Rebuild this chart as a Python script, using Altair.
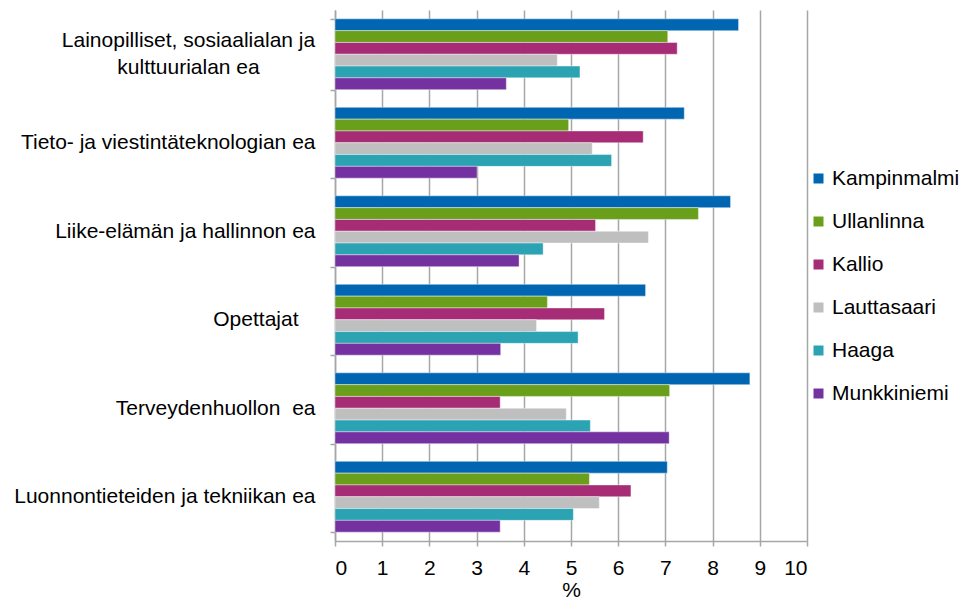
import altair as alt
import pandas as pd

categories = [
    "Lainopilliset, sosiaalialan ja kulttuurialan ea",
    "Tieto- ja viestintäteknologian ea",
    "Liike-elämän ja hallinnon ea",
    "Opettajat",
    "Terveydenhuollon  ea",
    "Luonnontieteiden ja tekniikan ea",
]
series = ["Kampinmalmi", "Ullanlinna", "Kallio", "Lauttasaari", "Haaga", "Munkkiniemi"]
colors = ["#0066B2", "#6A9F1C", "#A52C75", "#BFBFBF", "#2BA3B3", "#7332A0"]

kampinmalmi = [8.55, 7.40, 8.38, 6.58, 8.79, 7.04]
ullanlinna = [7.05, 4.95, 7.70, 4.50, 7.09, 5.39]
kallio = [7.25, 6.53, 5.52, 5.71, 3.50, 6.27]
lauttasaari = [4.71, 5.45, 6.64, 4.27, 4.90, 5.60]
haaga = [5.19, 5.86, 4.41, 5.15, 5.41, 5.05]
munkkiniemi = [3.63, 3.01, 3.90, 3.51, 7.08, 3.50]

values = [kampinmalmi, ullanlinna, kallio, lauttasaari, haaga, munkkiniemi]
rows = []
for s, vals in zip(series, values):
    for c, v in zip(categories, vals):
        rows.append({"category": c, "series": s, "value": v})
df = pd.DataFrame(rows)

NB = "\u00a0"
c0 = categories[0]
c3 = categories[3]
label_expr = (
    "datum.value == '" + c0 + "' ? ['Lainopilliset, sosiaalialan ja', 'kulttuurialan ea'] : "
    "datum.value == '" + categories[4] + "' ? 'Terveydenhuollon" + NB + " ea' : datum.label"
)
align_expr = "datum.value == '" + c0 + "' ? 'center' : 'right'"
pad_expr = "datum.value == '" + c0 + "' ? 142 : (datum.value == '" + c3 + "' ? 32 : 15)"
offset_expr = "datum.value == '" + c0 + "' ? -14 : 0"

FONT = "Liberation Sans"
FS = 21

chart = (
    alt.Chart(df)
    .mark_bar(stroke="white", strokeWidth=0.6, strokeOpacity=0.7)
    .encode(
        x=alt.X(
            "value:Q",
            title="%",
            scale=alt.Scale(domain=[0, 10], nice=False),
            axis=alt.Axis(
                values=list(range(0, 11)),
                grid=True,
                gridColor="#A6A6A6",
                gridWidth=1.5,
                domainColor="#A6A6A6",
                domainWidth=1.5,
                tickColor="#A6A6A6",
                tickWidth=1.5,
                tickSize=5,
                labelFontSize=FS,
                labelColor="black",
                labelFont=FONT,
                labelPadding=11,
                titleFontSize=FS,
                titleFont=FONT,
                titleFontWeight="normal",
                titleColor="black",
                titlePadding=1,
            ),
        ),
        y=alt.Y(
            "category:N",
            sort=categories,
            title=None,
            scale=alt.Scale(paddingInner=0.2, paddingOuter=0.1),
            axis=alt.Axis(
                labelExpr=label_expr,
                labelAlign={"expr": align_expr},
                labelPadding={"expr": pad_expr},
                labelOffset={"expr": offset_expr},
                labelFontSize=FS,
                labelFont=FONT,
                labelColor="black",
                labelLineHeight=27,
                labelLimit=400,
                tickBand="extent",
                tickSize=5,
                tickColor="#A6A6A6",
                tickWidth=1.5,
                domainColor="#A6A6A6",
                domainWidth=1.5,
                grid=False,
            ),
        ),
        yOffset=alt.YOffset("series:N", sort=series, scale=alt.Scale(paddingInner=0.0)),
        color=alt.Color(
            "series:N",
            sort=series,
            scale=alt.Scale(domain=series, range=colors),
            legend=alt.Legend(
                title=None,
                orient="none",
                legendX=473,
                legendY=158,
                symbolType="square",
                symbolSize=100,
                symbolStrokeWidth=0,
                labelFontSize=FS,
                labelFont=FONT,
                labelColor="black",
                labelOffset=3,
                rowPadding=21,
                labelLimit=200,
            ),
        ),
    )
    .properties(
        width=472,
        height=531,
        autosize=alt.AutoSizeParams(type="none"),
        padding={"left": 327, "top": 2, "right": 156, "bottom": 60},
    )
    .configure_view(stroke=None)
)

chart.save("out.html", embed_options={"renderer": "svg", "actions": False})
